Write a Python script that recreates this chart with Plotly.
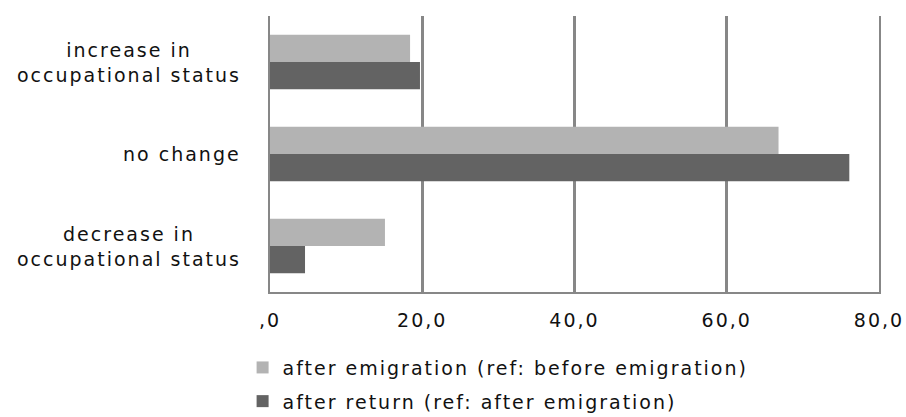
import plotly.graph_objects as go

# Categories (top to bottom) and the two series, in percent
categories = ["increase in<br>occupational status", "no change", "decrease in<br>occupational status"]
after_emigration = [18.4, 66.8, 15.1]
after_return = [19.7, 76.1, 4.6]

series_names = ["after emigration (ref: before emigration)", "after return (ref: after emigration)"]
tick_values = [0, 20, 40, 60, 80]
tick_labels = [",0", "20,0", "40,0", "60,0", "80,0"]

FONT = "DejaVu Sans"
FONT_SIZE = 19
TEXT_COLOR = "#111111"
AXIS_COLOR = "#878787"
LETTER_SPACING = 2.0

fig = go.Figure()
fig.add_trace(go.Bar(
    y=categories, x=after_emigration, orientation="h", name=series_names[0],
    marker=dict(color="#b3b3b3", line=dict(width=0)), legendgroup="a",
))
fig.add_trace(go.Bar(
    y=categories, x=after_return, orientation="h", name=series_names[1],
    marker=dict(color="#636363", line=dict(width=0)), legendgroup="b",
))

# Category labels: right-aligned blocks with centred lines
for cat in categories:
    longest = max(len(line) for line in cat.split("<br>"))
    fig.add_annotation(
        x=0, xref="paper", y=cat, yref="y", text=cat, showarrow=False,
        xanchor="right", align="center",
        xshift=-27 - LETTER_SPACING * longest / 2,
        font=dict(family=FONT, size=FONT_SIZE, color=TEXT_COLOR),
    )

fig.update_layout(
    width=906, height=417,
    margin=dict(l=270, r=27, t=16, b=125, autoexpand=False),
    paper_bgcolor="white", plot_bgcolor="white",
    barmode="group", bargap=0.41, bargroupgap=0,
    font=dict(family=FONT, size=FONT_SIZE, color=TEXT_COLOR),
    showlegend=True,
    legend=dict(
        x=-0.045, xanchor="left", y=-0.205, yanchor="top",
        traceorder="grouped", tracegroupgap=6,
        font=dict(family=FONT, size=FONT_SIZE, color=TEXT_COLOR),
        itemwidth=30, bgcolor="rgba(0,0,0,0)",
    ),
    xaxis=dict(
        range=[0, 80], tickvals=tick_values, ticktext=tick_labels,
        showgrid=True, gridcolor=AXIS_COLOR, gridwidth=3,
        showline=True, linecolor=AXIS_COLOR, linewidth=2,
        zeroline=False, ticks="", ticklabelstandoff=10,
        tickfont=dict(family=FONT, size=FONT_SIZE, color=TEXT_COLOR),
    ),
    yaxis=dict(
        categoryorder="array", categoryarray=categories, autorange="reversed",
        showticklabels=False, showgrid=False, zeroline=False,
        showline=True, linecolor=AXIS_COLOR, linewidth=2, mirror=True, ticks="",
    ),
)

# Wider text tracking for all chart labels; keep the legend unclipped
post = (
    "var s=document.createElement('style');"
    "s.textContent='.main-svg text{letter-spacing:%spx}"
    " .legend .scrollbox{clip-path:none !important}';"
    "document.head.appendChild(s);" % LETTER_SPACING
)
fig.write_html("out.html", post_script=post)
